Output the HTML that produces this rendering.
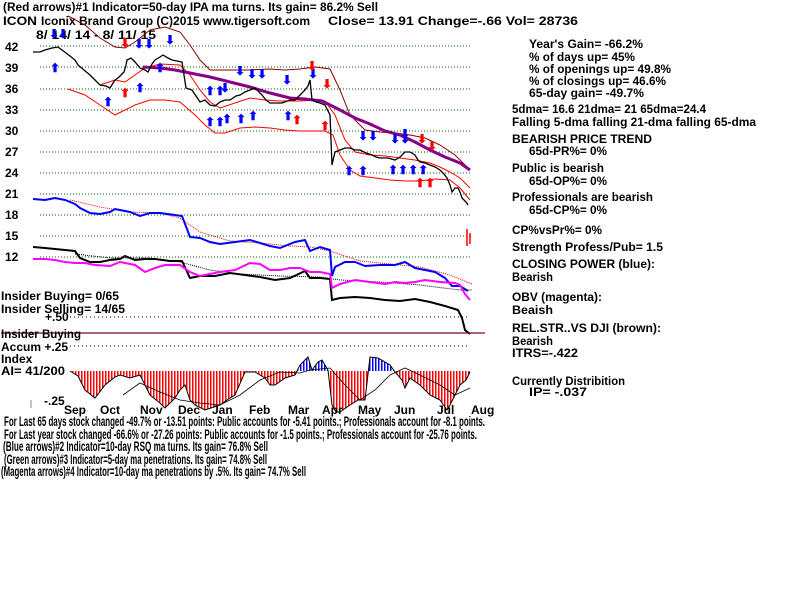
<!DOCTYPE html>
<html><head><meta charset="utf-8"><style>
html,body{margin:0;padding:0;background:#fff;width:800px;height:600px;overflow:hidden}
svg text{font-family:"Liberation Sans",sans-serif;font-weight:bold;font-size:12px;fill:#000}
</style></head><body>
<svg width="800" height="600" viewBox="0 0 800 600" xmlns="http://www.w3.org/2000/svg">
<defs>
<pattern id="rs" width="3" height="10" patternUnits="userSpaceOnUse"><rect x="0" y="0" width="1.5" height="10" fill="#f00"/></pattern>
<pattern id="bs" width="3" height="10" patternUnits="userSpaceOnUse"><rect x="0" y="0" width="1.5" height="10" fill="#00f"/></pattern>
<clipPath id="below"><rect x="0" y="371" width="800" height="60"/></clipPath>
<clipPath id="above"><rect x="0" y="330" width="800" height="41"/></clipPath>
</defs>
<text x="3" y="11" textLength="375" lengthAdjust="spacingAndGlyphs">(Red arrows)#1 Indicator=50-day IPA ma turns. Its gain= 86.2% Sell</text>
<text x="3" y="25" textLength="34" lengthAdjust="spacingAndGlyphs">ICON</text>
<text x="41" y="25" textLength="269" lengthAdjust="spacingAndGlyphs">Iconix Brand Group   (C)2015 www.tigersoft.com</text>
<text x="328" y="25" textLength="250" lengthAdjust="spacingAndGlyphs">Close=  13.91   Change=-.66 Vol= 28736</text>
<text x="36" y="39" textLength="120" lengthAdjust="spacingAndGlyphs">8/ 14/ 14 - 8/ 11/ 15</text>
<g>
<text x="5" y="51">42</text><text x="5" y="72">39</text><text x="5" y="93">36</text><text x="5" y="114">33</text><text x="5" y="135">30</text><text x="5" y="156">27</text><text x="5" y="177">24</text><text x="5" y="198">21</text><text x="5" y="219">18</text><text x="5" y="240">15</text><text x="5" y="261">12</text>
</g>
<g stroke="#060" stroke-width="1" stroke-dasharray="1,2">
<line x1="40" y1="46" x2="470" y2="46"/><line x1="40" y1="67" x2="470" y2="67"/><line x1="40" y1="89" x2="470" y2="89"/><line x1="40" y1="110" x2="470" y2="110"/><line x1="40" y1="131" x2="470" y2="131"/><line x1="40" y1="152" x2="470" y2="152"/><line x1="40" y1="173" x2="470" y2="173"/><line x1="40" y1="194" x2="470" y2="194"/><line x1="40" y1="215" x2="470" y2="215"/><line x1="40" y1="236" x2="470" y2="236"/><line x1="40" y1="257" x2="470" y2="257"/>
</g>
<polyline fill="none" stroke="#800" stroke-width="1" points="68,16 85,25 100,38 115,47 125,48 135,42 150,30 165,27 180,32 190,45 200,60 210,70 225,70 250,70 270,69 285,70 300,69 315,67 330,69 340,90 350,115 365,130 380,132 395,133 410,135 425,138 440,145 455,155 470,170"/>
<polyline fill="none" stroke="#f00" stroke-width="1" points="68,89 85,95 100,105 115,115 125,110 135,105 150,100 165,100 180,102 195,115 205,125 215,133 225,133 240,128 255,127 270,128 285,130 300,131 315,131 325,131 333,135 340,155 350,170 360,176 375,178 390,180 405,181 420,181 435,179 450,180 460,188 470,200"/>
<polyline fill="none" stroke="#f00" stroke-width="1" points="100,85 115,80 125,82 135,75 145,68 160,64 180,65 190,75 200,90 210,102 220,108 235,103 250,98 265,100 280,101 300,101 315,100 325,101 335,115 345,140 355,152 370,155 385,156 400,158 415,160 430,163 440,167 450,172 460,178 470,188"/>
<polyline fill="none" stroke="#808" stroke-width="3" points="143,67 160,68 175,70 190,73 210,77 230,82 250,87 270,93 290,98 305,99 322,101 340,110 355,118 370,124 385,131 400,135 415,142 430,150 445,157 460,163 470,170"/>
<polyline fill="none" stroke="#000" stroke-width="1.3" points="33,52 40,52 45,50 52,48 58,47 62,50 70,56 75,60 78,65 84,70 90,75 95,80 100,85 106,86 110,88 115,80 118,78 124,72 126,65 127,60 131,58 135,62 140,68 145,70 148,72 152,64 155,60 160,57 163,55 168,58 172,60 177,61 182,62 184,75 186,88 192,90 196,96 200,102 205,100 210,105 215,106 220,102 225,100 230,100 236,96 240,95 245,92 250,90 255,88 260,93 262,95 266,100 270,103 276,103 282,103 290,100 295,100 300,95 305,90 308,86 310,80 312,100 316,102 320,103 325,105 330,115 332,165 335,152 340,150 345,148 350,148 355,150 360,150 366,153 372,155 376,157 380,158 388,158 395,160 400,157 405,152 410,152 415,155 418,160 420,162 425,163 430,165 435,167 440,170 444,174 447,178 450,185 452,192 455,188 458,188 460,192 462,198 466,202 468,205"/>
<g stroke="#f00" stroke-width="1.5"><line x1="467" y1="229" x2="467" y2="246"/><line x1="470" y1="233" x2="470" y2="244"/></g>
<g font-size="12">
<text x="49" y="38" style="fill:#00f">⬇</text><text x="58" y="38" style="fill:#00f">⬇</text>
<text x="50" y="72" style="fill:#00f">⬆</text><text x="103" y="106" style="fill:#00f">⬆</text>
<text x="134" y="48" style="fill:#00f">⬇⬇</text><text x="165" y="44" style="fill:#00f">⬇</text>
<text x="135" y="92" style="fill:#00f">⬆</text><text x="155" y="72" style="fill:#00f">⬆</text>
<text x="205" y="95" style="fill:#00f">⬆⬆</text><text x="222" y="123" style="fill:#00f">⬆</text>
<text x="236" y="123" style="fill:#00f">⬆</text><text x="248" y="120" style="fill:#00f">⬆</text>
<text x="205" y="126" style="fill:#00f">⬆⬆</text><text x="235" y="75" style="fill:#00f">⬇</text>
<text x="247" y="78" style="fill:#00f">⬇⬇</text><text x="220" y="92" style="fill:#00f">⬇</text>
<text x="282" y="84" style="fill:#00f">⬇</text><text x="308" y="78" style="fill:#00f">⬇</text>
<text x="283" y="120" style="fill:#00f">⬆</text>
<text x="358" y="140" style="fill:#00f">⬇⬇</text><text x="344" y="175" style="fill:#00f">⬆</text><text x="358" y="175" style="fill:#00f">⬆</text>
<text x="388" y="174" style="fill:#00f">⬆⬆⬆⬆</text><text x="390" y="143" style="fill:#00f">⬇⬇</text><text x="400" y="138" style="fill:#00f">⬇</text>
<text x="120" y="97" style="fill:#f00">⬆</text><text x="120" y="47" style="fill:#f00">⬇</text>
<text x="292" y="124" style="fill:#f00">⬆</text><text x="320" y="130" style="fill:#f00">⬆</text>
<text x="307" y="70" style="fill:#f00">⬇</text><text x="322" y="88" style="fill:#f00">⬇</text>
<text x="417" y="143" style="fill:#f00">⬇</text><text x="427" y="150" style="fill:#f00">⬇</text>
<text x="415" y="187" style="fill:#f00">⬆⬆</text>
</g>
<polyline fill="none" stroke="#f00" stroke-width="1" stroke-dasharray="1,1" points="70,200 100,207 130,212 160,213 180,218 200,232 230,241 260,243 290,246 310,247 330,251 360,261 390,264 420,267 450,275 472,284"/>
<polyline fill="none" stroke="#00f" stroke-width="2" points="33,199 45,200 55,198 65,200 75,204 80,208 90,213 100,214 110,212 115,209 125,211 130,212 140,216 150,213 160,213 175,215 182,216 190,237 200,238 210,242 220,244 235,242 250,240 260,243 270,246 280,248 295,242 305,240 310,251 320,247 330,250 332,276 335,267 345,262 355,262 365,266 380,265 395,265 405,262 415,268 425,270 435,272 445,278 452,286 460,286 468,291"/>
<polyline fill="none" stroke="#000" stroke-width="1" stroke-dasharray="1,1" points="75,254 110,258 150,258 180,262 210,270 240,274 280,276 320,277 340,280 380,282 420,285 460,290 472,290"/>
<polyline fill="none" stroke="#000" stroke-width="2" points="33,247 45,248 55,249 65,250 75,251 80,258 90,262 100,262 110,260 120,259 125,256 135,260 145,259 155,259 170,261 182,261 190,278 200,276 215,276 230,273 245,275 260,277 275,280 290,278 305,271 310,278 320,278 330,279 332,300 340,298 355,297 370,298 385,300 400,301 415,299 430,302 445,306 458,310 462,318 465,330 470,334"/>
<polyline fill="none" stroke="#f0f" stroke-width="2" points="33,259 45,259 55,260 65,262 75,263 85,263 95,265 110,266 120,262 135,265 145,272 155,268 165,265 180,265 190,272 200,276 210,274 220,272 235,270 250,263 260,264 270,270 280,270 290,268 300,268 310,272 320,272 330,274 332,288 340,284 355,280 370,282 385,284 395,282 405,283 415,282 425,280 440,282 455,283 460,285 465,294 470,300"/>
<text x="1" y="300" textLength="118" lengthAdjust="spacingAndGlyphs">Insider Buying= 0/65</text>
<text x="45" y="321">+.50</text>
<text x="1" y="313" textLength="124" lengthAdjust="spacingAndGlyphs">Insider Selling= 14/65</text>
<line x1="70" y1="317" x2="470" y2="317" stroke="#000" stroke-dasharray="1,3"/>
<line x1="1" y1="333" x2="485" y2="333" stroke="#800040" stroke-width="1.3"/>
<text x="1" y="338" textLength="80" lengthAdjust="spacingAndGlyphs">Insider Buying</text>
<text x="1" y="351">Accum +.25</text>
<line x1="70" y1="346" x2="470" y2="346" stroke="#000" stroke-dasharray="1,3"/>
<text x="1" y="363">Index</text>
<text x="1" y="375" textLength="64" lengthAdjust="spacingAndGlyphs">AI= 41/200</text>
<text x="44" y="405">-.25</text>
<line x1="31" y1="400" x2="31" y2="408" stroke="#886" />
<g>
<polygon clip-path="url(#below)" fill="url(#rs)" points="70,371 78,376 85,390 95,398 105,385 115,377 120,375 130,378 140,375 145,385 150,395 160,403 165,408 175,398 180,390 185,385 190,400 195,405 205,410 220,405 230,398 235,395 245,372 255,372 265,378 270,385 275,385 285,378 295,375 300,365 308,357 312,370 318,362 322,360 328,370 332,405 336,412 340,412 350,405 358,400 365,400 370,357 378,358 390,365 395,372 402,380 405,388 410,378 420,385 430,395 440,400 447,410 450,405 460,385 466,380 470,372 470,371"/>
<polygon clip-path="url(#above)" fill="url(#bs)" points="70,371 78,376 85,390 95,398 105,385 115,377 120,375 130,378 140,375 145,385 150,395 160,403 165,408 175,398 180,390 185,385 190,400 195,405 205,410 220,405 230,398 235,395 245,372 255,372 265,378 270,385 275,385 285,378 295,375 300,365 308,357 312,370 318,362 322,360 328,370 332,405 336,412 340,412 350,405 358,400 365,400 370,357 378,358 390,365 395,372 402,380 405,388 410,378 420,385 430,395 440,400 447,410 450,405 460,385 466,380 470,372 470,371"/>
<polyline fill="none" stroke="#000" stroke-width="1" points="70,371 78,376 85,390 95,398 105,385 115,377 120,375 130,378 140,375 145,385 150,395 160,403 165,408 175,398 180,390 185,385 190,400 195,405 205,410 220,405 230,398 235,395 245,372 255,372 265,378 270,385 275,385 285,378 295,375 300,365 308,357 312,370 318,362 322,360 328,370 332,405 336,412 340,412 350,405 358,400 365,400 370,357 378,358 390,365 395,372 402,380 405,388 410,378 420,385 430,395 440,400 447,410 450,405 460,385 466,380 470,372"/>
<polyline fill="none" stroke="#000" stroke-width="0.8" points="123,395 140,383 160,392 180,400 200,403 220,405 240,395 260,380 280,372 300,373 310,370 330,368 345,385 360,400 375,390 390,375 405,368 420,375 440,385 455,395 470,388"/>
</g>
<g font-size="12">
<text x="64" y="414">Sep</text><text x="100" y="414">Oct</text><text x="140" y="414">Nov</text><text x="178" y="414">Dec</text><text x="212" y="414">Jan</text><text x="249" y="414">Feb</text><text x="288" y="414">Mar</text><text x="322" y="414">Apr</text><text x="358" y="414">May</text><text x="394" y="414">Jun</text><text x="437" y="414">Jul</text><text x="471" y="414">Aug</text>
</g>
<g style="font-size:13.5px">
<text x="4" y="426" style="font-size:13.5px" textLength="481" lengthAdjust="spacingAndGlyphs">For Last 65 days stock changed -49.7% or -13.51 points:  Public accounts for -5.41 points.;  Professionals account for -8.1 points.</text>
<text x="4" y="439" style="font-size:13.5px" textLength="473" lengthAdjust="spacingAndGlyphs">For Last year stock changed -66.6% or -27.26 points:  Public accounts for -1.5 points.;  Professionals account for -25.76 points.</text>
<text x="3" y="451" style="font-size:13.5px" textLength="265" lengthAdjust="spacingAndGlyphs">(Blue arrows)#2 Indicator=10-day RSQ ma turns. Its gain= 76.8% Sell</text>
<text x="4" y="464" style="font-size:13.5px" textLength="263" lengthAdjust="spacingAndGlyphs">(Green arrows)#3 Indicator=5-day ma penetrations. Its gain= 74.8% Sell</text>
<text x="1" y="476" style="font-size:13.5px" textLength="305" lengthAdjust="spacingAndGlyphs">(Magenta arrows)#4 Indicator=10-day ma penetrations by .5%. Its gain= 74.7% Sell</text>
</g>
<text x="529" y="48" textLength="114" lengthAdjust="spacingAndGlyphs">Year's Gain= -66.2%</text>
<text x="529" y="61" textLength="106" lengthAdjust="spacingAndGlyphs">% of days up= 45%</text>
<text x="529" y="73" textLength="142" lengthAdjust="spacingAndGlyphs">% of openings up= 49.8%</text>
<text x="529" y="85" textLength="137" lengthAdjust="spacingAndGlyphs">% of closings up= 46.6%</text>
<text x="529" y="97" textLength="115" lengthAdjust="spacingAndGlyphs">65-day gain= -49.7%</text>
<text x="512" y="113" textLength="194" lengthAdjust="spacingAndGlyphs">5dma= 16.6 21dma= 21 65dma=24.4</text>
<text x="512" y="126" textLength="244" lengthAdjust="spacingAndGlyphs">Falling 5-dma  falling 21-dma  falling 65-dma</text>
<text x="512" y="143" textLength="140" lengthAdjust="spacingAndGlyphs">BEARISH PRICE TREND</text>
<text x="529" y="155" textLength="78" lengthAdjust="spacingAndGlyphs">65d-PR%= 0%</text>
<text x="512" y="172" textLength="92" lengthAdjust="spacingAndGlyphs">Public is bearish</text>
<text x="529" y="185" textLength="78" lengthAdjust="spacingAndGlyphs">65d-OP%= 0%</text>
<text x="512" y="201" textLength="141" lengthAdjust="spacingAndGlyphs">Professionals are bearish</text>
<text x="529" y="214" textLength="78" lengthAdjust="spacingAndGlyphs">65d-CP%= 0%</text>
<text x="512" y="234" textLength="90" lengthAdjust="spacingAndGlyphs">CP%vsPr%=  0%</text>
<text x="512" y="251" textLength="151" lengthAdjust="spacingAndGlyphs">Strength Profess/Pub= 1.5</text>
<text x="512" y="268" textLength="143" lengthAdjust="spacingAndGlyphs">CLOSING POWER (blue):</text>
<text x="512" y="281" textLength="41" lengthAdjust="spacingAndGlyphs">Bearish</text>
<text x="512" y="301" textLength="90" lengthAdjust="spacingAndGlyphs">OBV (magenta):</text>
<text x="512" y="314" textLength="41" lengthAdjust="spacingAndGlyphs">Beaish</text>
<text x="512" y="332" textLength="149" lengthAdjust="spacingAndGlyphs">REL.STR..VS DJI (brown):</text>
<text x="512" y="345" textLength="41" lengthAdjust="spacingAndGlyphs">Bearish</text>
<text x="512" y="357" textLength="66" lengthAdjust="spacingAndGlyphs">ITRS=-.422</text>
<text x="512" y="385" textLength="113" lengthAdjust="spacingAndGlyphs">Currently Distribition</text>
<text x="529" y="396" textLength="58" lengthAdjust="spacingAndGlyphs">IP= -.037</text>
</svg>
</body></html>
